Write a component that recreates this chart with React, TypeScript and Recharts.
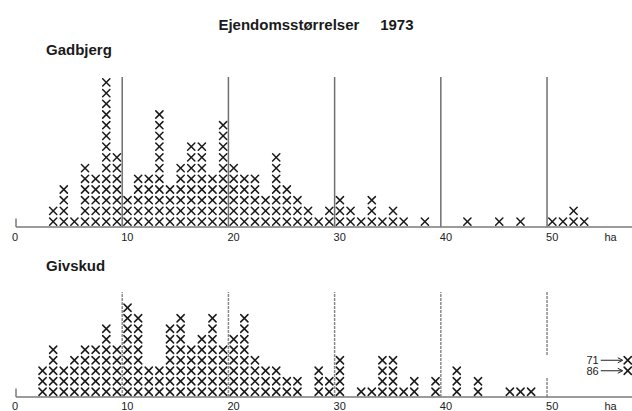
import React from "react";
import { ScatterChart, Scatter, XAxis, YAxis, ReferenceLine } from "recharts";

// number of properties in each 1-ha size class, starting at 0-1 ha
const gadbjergCounts = [
  0, 0, 0, 2, 4, 1, 6, 5, 14, 7,
  3, 5, 5, 11, 4, 6, 8, 8, 5, 10,
  6, 5, 5, 3, 7, 4, 3, 2, 1, 2,
  3, 2, 1, 3, 1, 2, 1, 0, 1, 0,
  0, 0, 1, 0, 0, 1, 0, 1, 0, 0,
  1, 1, 2, 1,
];
const givskudCounts = [
  0, 0, 3, 5, 3, 4, 5, 5, 7, 5,
  9, 8, 3, 3, 7, 8, 5, 6, 8, 5,
  6, 8, 4, 3, 3, 2, 2, 0, 3, 2,
  4, 0, 1, 1, 4, 4, 1, 2, 0, 2,
  0, 3, 0, 2, 0, 0, 1, 1, 1,
];
// Givskud properties too large for the axis
const givskudOutliers = [71, 86];

const gridLines = [10, 20, 30, 40, 50];
const tickValues = [0, 10, 20, 30, 40, 50];
const X_MAX = 58;
const HA_POS = 55.5;
const FONT = "'Liberation Sans', Arial, Helvetica, sans-serif";

const toPoints = (counts: number[]) =>
  counts.flatMap((n, i) =>
    Array.from({ length: n }, (_, k) => ({ x: i + 0.5, y: k + 0.5 }))
  );

const XMark = ({ cx, cy }: any) => {
  const h = 3.6;
  return (
    <g stroke="#1a1a1a" strokeWidth={1.5} strokeLinecap="round">
      <line x1={cx - h} y1={cy - h} x2={cx + h} y2={cy + h} />
      <line x1={cx - h} y1={cy + h} x2={cx + h} y2={cy - h} />
    </g>
  );
};

const OutlierMark = ({ cx, cy, payload }: any) => (
  <g>
    <text x={cx - 29} y={cy + 4} textAnchor="end" fontSize={11} fontFamily={FONT} fill="#222">
      {payload.size}
    </text>
    <line x1={cx - 27} y1={cy} x2={cx - 6} y2={cy} stroke="#222" strokeWidth={1} />
    <path d={`M${cx - 10},${cy - 2.5} L${cx - 5},${cy} L${cx - 10},${cy + 2.5}`} fill="none" stroke="#222" strokeWidth={1} />
    <XMark cx={cx} cy={cy} />
  </g>
);

const makeTick = (offset: number) => ({ x, y, payload }: any) => {
  const v = payload.value;
  return (
    <text
      x={x - 1}
      y={y + offset}
      textAnchor={v === 0 ? "middle" : "start"}
      fontSize={11}
      fontFamily={FONT}
      fill="#222"
    >
      {v === HA_POS ? "ha" : String(v)}
    </text>
  );
};

type PanelProps = {
  counts: number[];
  top: number;
  height: number;
  plotTop: number;
  axisH: number;
  yMax: number;
  tickOffset: number;
  lower?: boolean;
};

function Panel({ counts, top, height, plotTop, axisH, yMax, tickOffset, lower }: PanelProps) {
  const points = toPoints(counts);
  const outliers = lower
    ? givskudOutliers.map((s, i) => ({ x: X_MAX - 0.4, y: 3.5 - i, size: s }))
    : [];
  const lineColor = lower ? "#8a8a8a" : "#6f6f6f";
  return (
    <div style={{ position: "absolute", left: 0, top }}>
      <ScatterChart width={632} height={height} margin={{ top: plotTop, right: 0, bottom: 0, left: 16 }}>
        <XAxis
          type="number"
          dataKey="x"
          domain={[0, X_MAX]}
          ticks={[...tickValues, HA_POS]}
          interval={0}
          tickLine={false}
          tickSize={0}
          tickMargin={0}
          height={axisH}
          axisLine={{ stroke: "#7a7a7a", strokeWidth: 1.5 }}
          tick={makeTick(tickOffset)}
          allowDataOverflow
        />
        <YAxis type="number" dataKey="y" domain={[0, yMax]} hide allowDataOverflow />
        {gridLines.map((v) =>
          lower && v === 50 ? null : (
            <ReferenceLine
              key={v}
              x={v}
              stroke={lineColor}
              strokeWidth={1.5}
              strokeDasharray={lower ? "3 1" : undefined}
            />
          )
        )}
        {lower && (
          <ReferenceLine segment={[{ x: 50, y: 4 }, { x: 50, y: yMax }]} stroke={lineColor} strokeWidth={1.5} strokeDasharray="3 1" />
        )}
        {lower && (
          <ReferenceLine segment={[{ x: 50, y: 0 }, { x: 50, y: 1.8 }]} stroke={lineColor} strokeWidth={1.5} strokeDasharray="3 1" />
        )}
        <ReferenceLine segment={[{ x: 0, y: 0 }, { x: 0, y: 0.8 }]} stroke="#7a7a7a" strokeWidth={1.5} />
        <Scatter data={points} shape={(p: any) => <XMark {...p} />} isAnimationActive={false} />
        {lower && (
          <Scatter data={outliers} shape={(p: any) => <OutlierMark {...p} />} isAnimationActive={false} />
        )}
      </ScatterChart>
    </div>
  );
}

const labelStyle: React.CSSProperties = {
  position: "absolute",
  fontFamily: FONT,
  fontWeight: "bold",
  fontSize: 15,
  color: "#1a1a1a",
  whiteSpace: "pre",
  lineHeight: "15px",
};

export default function App() {
  return (
    <div style={{ position: "absolute", left: 0, top: 0, width: 632, height: 411, background: "#fff", overflow: "hidden" }}>
      <div style={{ ...labelStyle, left: 0, width: 632, top: 17, textAlign: "center" }}>
        {"Ejendomsstørrelser     1973"}
      </div>
      <div style={{ ...labelStyle, left: 46, top: 42 }}>Gadbjerg</div>
      <div style={{ ...labelStyle, left: 46, top: 258 }}>Givskud</div>
      <Panel counts={gadbjergCounts} top={0} height={250} plotTop={77} axisH={23} yMax={14} tickOffset={14} />
      <Panel counts={givskudCounts} top={250} height={161} plotTop={42} axisH={14} yMax={10} tickOffset={13} lower />
    </div>
  );
}
